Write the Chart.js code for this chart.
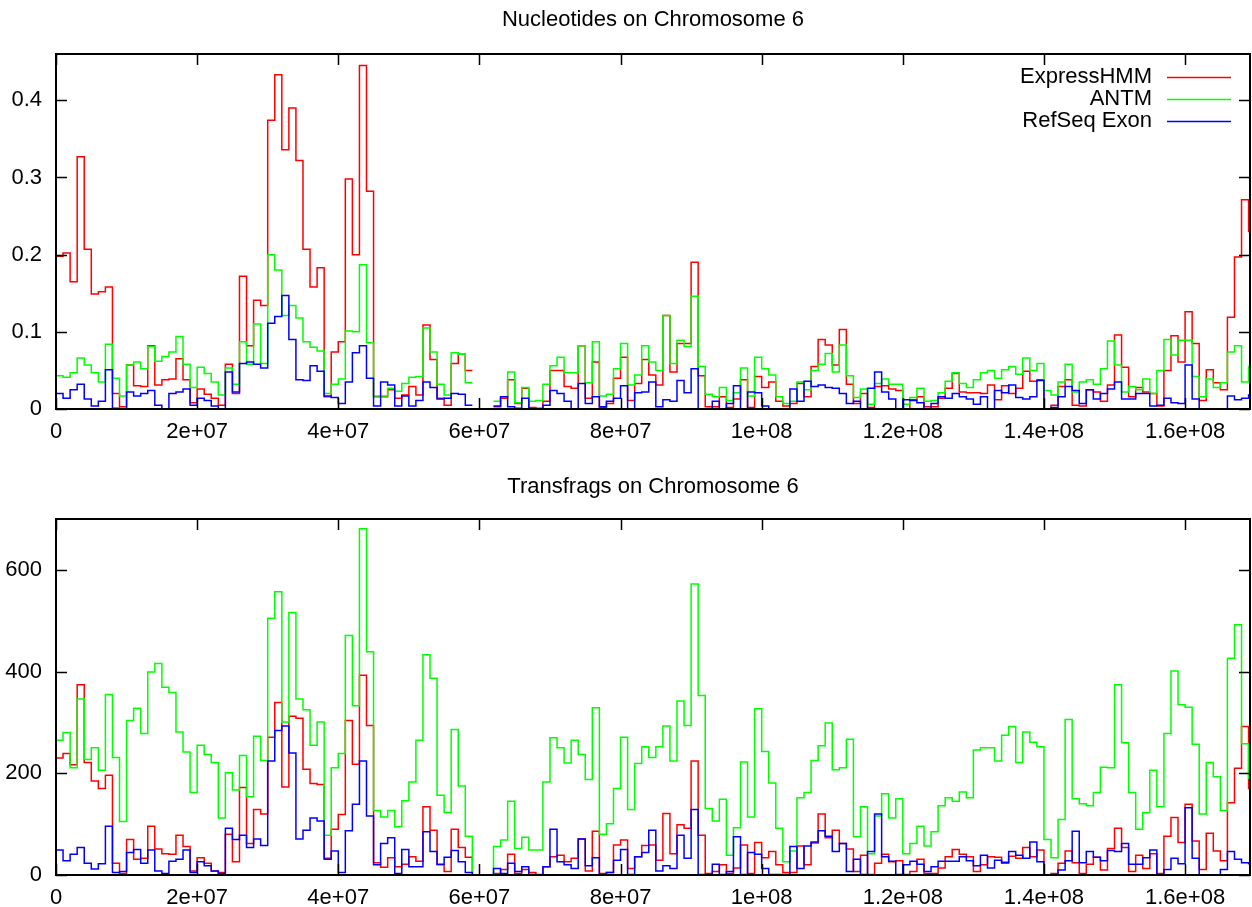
<!DOCTYPE html>
<html>
<head>
<meta charset="utf-8">
<title>Chromosome 6</title>
<script src="https://cdn.jsdelivr.net/npm/chart.js@4/dist/chart.umd.min.js"></script>
<style>
  html, body { margin: 0; padding: 0; background: #fff; }
  #wrap { position: relative; width: 1252px; height: 907px; }
  canvas { position: absolute; left: 0; }
  #nuc_chart { top: 0; }
  #frag_chart { top: 453px; }
</style>
</head>
<body>
<div id="wrap">
  <canvas id="nuc_chart" width="1252" height="453"></canvas>
  <canvas id="frag_chart" width="1252" height="454"></canvas>
</div>
<script>
// bins are 1 Mb wide along chromosome 6
const binSize = 1e6;
const xMax = 1.692e8;
const xTicks = [0, 2e7, 4e7, 6e7, 8e7, 1e8, 1.2e8, 1.4e8, 1.6e8];

const seriesNames = ['ExpressHMM', 'ANTM', 'RefSeq Exon'];
const seriesColors = ['#ff0000', '#00ff00', '#0000ff'];

// Nucleotides (fraction of bin), null = centromere gap
const nucExpressHMM = [
  0.198, 0.202, 0.165, 0.327, 0.207, 0.149, 0.152, 0.158, 0.020, 0.003,
  0.057, 0.030, 0.029, 0.082, 0.031, 0.038, 0.039, 0.065, 0.038, 0.008,
  0.026, 0.019, 0.014, 0.005, 0.058, 0.020, 0.172, 0.082, 0.141, 0.134,
  0.374, 0.433, 0.336, 0.390, 0.322, 0.207, 0.158, 0.183, 0.016, 0.074,
  0.087, 0.298, 0.200, 0.445, 0.282, 0.016, 0.016, 0.025, 0.014, 0.018,
  0.029, 0.018, 0.109, 0.064, 0.014, 0.005, 0.059, 0.071, 0.050, null,
  null, null, 0.003, 0.014, 0.038, 0.007, 0.027, 0.002, 0.001, 0.010,
  0.050, 0.050, 0.029, 0.027, 0.082, 0.014, 0.061, 0.002, 0.007, 0.040,
  0.067, 0.011, 0.033, 0.064, 0.044, 0.031, 0.121, 0.048, 0.085, 0.085,
  0.190, 0.043, 0.003, 0.003, 0.016, 0.002, 0.013, 0.038, 0.002, 0.042,
  0.028, 0.035, 0.010, 0.004, 0.007, 0.033, 0.016, 0.055, 0.090, 0.083,
  0.057, 0.103, 0.032, 0.007, 0.020, 0.002, 0.029, 0.030, 0.026, 0.024,
  0.000, 0.012, 0.016, 0.003, 0.003, 0.014, 0.027, 0.046, 0.022, 0.021,
  0.021, 0.020, 0.031, 0.012, 0.030, 0.020, 0.027, 0.049, 0.036, 0.038,
  0.000, 0.005, 0.029, 0.038, 0.005, 0.004, 0.025, 0.022, 0.010, 0.031,
  0.096, 0.054, 0.016, 0.028, 0.022, 0.020, 0.004, 0.050, 0.095, 0.061,
  0.126, 0.085, 0.011, 0.051, 0.034, 0.025, 0.119, 0.197, 0.271, 0.230
];
const nucANTM = [
  0.043, 0.041, 0.047, 0.066, 0.057, 0.047, 0.035, 0.084, 0.040, 0.017,
  0.057, 0.061, 0.052, 0.081, 0.062, 0.068, 0.074, 0.094, 0.058, 0.028,
  0.054, 0.046, 0.035, 0.018, 0.053, 0.032, 0.087, 0.058, 0.110, 0.059,
  0.200, 0.180, 0.121, 0.134, 0.118, 0.087, 0.080, 0.075, 0.020, 0.032,
  0.039, 0.101, 0.100, 0.187, 0.086, 0.017, 0.017, 0.027, 0.023, 0.033,
  0.041, 0.042, 0.105, 0.074, 0.032, 0.018, 0.073, 0.071, 0.034, null,
  null, null, 0.010, 0.016, 0.048, 0.008, 0.028, 0.010, 0.011, 0.032,
  0.056, 0.067, 0.047, 0.047, 0.082, 0.034, 0.087, 0.017, 0.019, 0.052,
  0.085, 0.031, 0.044, 0.082, 0.061, 0.050, 0.121, 0.059, 0.089, 0.081,
  0.146, 0.055, 0.019, 0.016, 0.028, 0.011, 0.021, 0.053, 0.017, 0.067,
  0.052, 0.044, 0.016, 0.007, 0.010, 0.035, 0.025, 0.050, 0.058, 0.072,
  0.048, 0.083, 0.043, 0.015, 0.026, 0.006, 0.033, 0.039, 0.032, 0.032,
  0.006, 0.015, 0.027, 0.010, 0.011, 0.021, 0.036, 0.047, 0.033, 0.028,
  0.038, 0.047, 0.050, 0.040, 0.051, 0.055, 0.045, 0.066, 0.050, 0.059,
  0.024, 0.018, 0.035, 0.058, 0.022, 0.035, 0.038, 0.032, 0.052, 0.088,
  0.057, 0.022, 0.029, 0.025, 0.039, 0.020, 0.050, 0.090, 0.070, 0.089,
  0.089, 0.042, 0.016, 0.039, 0.028, 0.034, 0.074, 0.082, 0.035, 0.055
];
const nucRefSeq = [
  0.020, 0.014, 0.025, 0.032, 0.013, 0.004, 0.010, 0.051, 0.001, 0.000,
  0.022, 0.017, 0.020, 0.024, 0.005, 0.000, 0.020, 0.022, 0.026, 0.005,
  0.014, 0.011, 0.004, 0.000, 0.048, 0.022, 0.059, 0.061, 0.058, 0.053,
  0.111, 0.120, 0.147, 0.090, 0.038, 0.037, 0.056, 0.049, 0.017, 0.015,
  0.007, 0.035, 0.073, 0.082, 0.040, 0.004, 0.035, 0.031, 0.004, 0.017,
  0.004, 0.011, 0.035, 0.028, 0.013, 0.014, 0.020, 0.019, 0.005, null,
  null, null, 0.004, 0.016, 0.003, 0.001, 0.014, 0.000, 0.000, 0.005,
  0.024, 0.020, 0.010, 0.000, 0.033, 0.007, 0.016, 0.003, 0.010, 0.014,
  0.030, 0.000, 0.021, 0.022, 0.035, 0.003, 0.012, 0.010, 0.037, 0.021,
  0.052, 0.000, 0.000, 0.010, 0.000, 0.007, 0.030, 0.000, 0.022, 0.021,
  0.004, 0.000, 0.000, 0.000, 0.026, 0.010, 0.036, 0.029, 0.031, 0.028,
  0.027, 0.020, 0.007, 0.010, 0.000, 0.027, 0.048, 0.022, 0.013, 0.000,
  0.012, 0.011, 0.008, 0.000, 0.007, 0.016, 0.014, 0.020, 0.016, 0.013,
  0.006, 0.016, 0.000, 0.024, 0.021, 0.031, 0.015, 0.013, 0.016, 0.037,
  0.000, 0.002, 0.016, 0.029, 0.024, 0.007, 0.025, 0.013, 0.020, 0.026,
  0.035, 0.013, 0.013, 0.020, 0.020, 0.004, 0.005, 0.014, 0.008, 0.007,
  0.057, 0.013, 0.000, 0.000, 0.000, 0.000, 0.017, 0.012, 0.014, 0.018
];

// Transfrags (count per bin)
const fragExpressHMM = [
  230, 239, 217, 374, 221, 185, 170, 196, 23, 3,
  70, 31, 33, 96, 51, 42, 41, 78, 56, 8,
  34, 23, 8, 5, 80, 26, 172, 62, 129, 120,
  271, 339, 173, 312, 308, 208, 180, 178, 33, 90,
  119, 304, 218, 393, 294, 24, 15, 34, 16, 21,
  36, 27, 134, 88, 20, 7, 90, 54, 35, 0,
  0, 0, 3, 11, 41, 3, 11, 5, 1, 16,
  36, 39, 26, 33, 71, 8, 86, 3, 5, 59,
  69, 13, 36, 58, 59, 29, 121, 42, 99, 92,
  224, 78, 3, 7, 20, 3, 14, 59, 3, 64,
  34, 46, 20, 5, 5, 57, 20, 63, 120, 73,
  88, 62, 51, 7, 39, 1, 23, 41, 26, 28,
  1, 7, 31, 3, 3, 14, 36, 50, 41, 36,
  7, 20, 36, 35, 23, 37, 33, 54, 36, 49,
  0, 3, 23, 47, 24, 3, 21, 35, 10, 52,
  92, 54, 7, 39, 13, 42, 3, 76, 113, 64,
  139, 67, 11, 82, 47, 28, 142, 210, 292, 170
];
const fragANTM = [
  265, 280, 211, 346, 227, 250, 206, 355, 231, 105,
  304, 328, 278, 399, 416, 369, 359, 281, 242, 162,
  255, 237, 221, 112, 201, 167, 235, 154, 273, 225,
  505, 557, 301, 516, 346, 325, 255, 301, 78, 211,
  239, 471, 333, 681, 439, 127, 114, 127, 95, 146,
  183, 265, 433, 387, 157, 123, 286, 175, 76, 0,
  0, 0, 56, 69, 145, 52, 74, 49, 49, 183,
  270, 250, 220, 265, 237, 188, 329, 80, 101, 170,
  271, 129, 219, 252, 231, 252, 293, 224, 342, 294,
  572, 353, 131, 106, 149, 39, 93, 222, 114, 327,
  243, 181, 92, 26, 47, 152, 162, 225, 254, 299,
  207, 211, 267, 75, 134, 42, 116, 160, 112, 150,
  42, 62, 96, 57, 85, 136, 152, 145, 163, 152,
  246, 250, 250, 224, 275, 292, 221, 281, 261, 252,
  70, 34, 109, 306, 150, 140, 136, 162, 212, 211,
  374, 260, 162, 90, 123, 206, 134, 278, 401, 335,
  330, 257, 120, 221, 193, 127, 426, 492, 258, 190
];
const fragRefSeq = [
  49, 28, 41, 54, 23, 12, 22, 96, 5, 7,
  44, 50, 23, 49, 8, 3, 27, 31, 49, 5,
  26, 18, 8, 3, 92, 70, 78, 54, 71, 58,
  224, 284, 293, 240, 71, 88, 112, 106, 31, 47,
  5, 87, 139, 224, 116, 20, 62, 73, 3, 50,
  16, 16, 85, 46, 21, 35, 48, 26, 5, 0,
  0, 0, 13, 3, 23, 7, 16, 1, 0, 16,
  90, 26, 20, 13, 71, 18, 34, 1, 5, 29,
  50, 1, 36, 44, 88, 8, 18, 13, 78, 33,
  129, 1, 1, 21, 1, 7, 75, 1, 44, 41,
  13, 1, 1, 1, 56, 13, 57, 65, 87, 76,
  46, 62, 7, 31, 1, 46, 120, 36, 27, 1,
  20, 27, 21, 7, 16, 27, 27, 27, 36, 28,
  18, 39, 14, 29, 25, 46, 39, 33, 65, 26,
  0, 0, 10, 28, 86, 24, 46, 35, 28, 48,
  46, 62, 21, 21, 34, 49, 0, 11, 33, 22,
  132, 33, 0, 0, 0, 11, 46, 31, 24, 22
];

const fontFamily = '"Liberation Sans", Arial, Helvetica, sans-serif';
Chart.defaults.font.family = fontFamily;
Chart.defaults.font.size = 22;
Chart.defaults.color = '#000';

// turn bin values into step points, closing the last bin before a gap
function stepPoints(values) {
  const pts = [];
  values.forEach(function(v, i) {
    pts.push({x: i * binSize, y: v});
    if (v !== null && (i === values.length - 1 || values[i + 1] === null)) {
      pts.push({x: (i + 1) * binSize, y: v});
    }
  });
  return pts;
}

function makeDatasets(lists) {
  return lists.map(function(vals, k) {
    return {
      label: seriesNames[k],
      data: stepPoints(vals),
      borderColor: seriesColors[k],
      backgroundColor: seriesColors[k],
      borderWidth: 1.5,
      stepped: 'before',
      pointRadius: 0,
      fill: false,
      spanGaps: false,
      order: 3 - k
    };
  });
}

function expLabel(v) {
  if (v === 0) return '0';
  return v.toExponential().replace(/e([+-])(\d)$/, 'e$10$2');
}

// gnuplot style frame with inward ticks on all four sides, title over the plot
const framePlugin = {
  id: 'gpFrame',
  afterDatasetsDraw(chart, args, opts) {
    const ctx = chart.ctx;
    const a = chart.chartArea;
    const xs = chart.scales.x;
    const ys = chart.scales.y;
    const len = 11;
    ctx.save();
    ctx.strokeStyle = '#000';
    ctx.lineWidth = 1.5;
    ctx.beginPath();
    xs.ticks.forEach(function(t) {
      const px = Math.round(xs.getPixelForValue(t.value)) + 0.5;
      ctx.moveTo(px, a.bottom); ctx.lineTo(px, a.bottom - len);
      ctx.moveTo(px, a.top); ctx.lineTo(px, a.top + len);
    });
    ys.ticks.forEach(function(t) {
      const py = Math.round(ys.getPixelForValue(t.value)) + 0.5;
      ctx.moveTo(a.left, py); ctx.lineTo(a.left + len, py);
      ctx.moveTo(a.right, py); ctx.lineTo(a.right - len, py);
    });
    ctx.stroke();
    ctx.lineWidth = 2;
    ctx.strokeRect(a.left, a.top, a.right - a.left, a.bottom - a.top);

    ctx.fillStyle = '#000';
    ctx.font = '22px ' + fontFamily;
    ctx.textAlign = 'center';
    ctx.textBaseline = 'middle';
    ctx.fillText(opts.title, (a.left + a.right) / 2, opts.titleY);
    ctx.restore();
  }
};

// key in the top right corner, text right aligned before the line sample
const keyPlugin = {
  id: 'gpKey',
  afterDatasetsDraw(chart, args, opts) {
    if (!opts.show) return;
    const ctx = chart.ctx;
    ctx.save();
    ctx.font = '22px ' + fontFamily;
    ctx.textAlign = 'right';
    ctx.textBaseline = 'middle';
    seriesNames.forEach(function(name, k) {
      const yy = opts.top + k * 22;
      ctx.fillStyle = '#000';
      ctx.fillText(name, opts.textRight, yy);
      ctx.strokeStyle = seriesColors[k];
      ctx.lineWidth = 1.5;
      ctx.beginPath();
      ctx.moveTo(opts.lineStart, yy + 0.5);
      ctx.lineTo(opts.lineEnd, yy + 0.5);
      ctx.stroke();
    });
    ctx.restore();
  }
};

function makeChart(canvasId, title, lists, yMax, yStep, yLabel, xHeight, plotTop, titleY, key) {
  return new Chart(document.getElementById(canvasId).getContext('2d'), {
    type: 'line',
    data: { datasets: makeDatasets(lists) },
    options: {
      responsive: false,
      animation: false,
      events: [],
      layout: { padding: { left: 0, right: 2, top: plotTop, bottom: 0 } },
      plugins: {
        legend: { display: false },
        tooltip: { enabled: false },
        title: { display: false },
        gpFrame: { title: title, titleY: titleY },
        gpKey: key
      },
      scales: {
        x: {
          type: 'linear',
          min: 0,
          max: xMax,
          grid: { display: false, drawTicks: false },
          border: { display: false },
          afterBuildTicks: function(s) {
            s.ticks = xTicks.map(function(v) { return {value: v}; });
          },
          afterFit: function(s) { s.height = xHeight; },
          ticks: {
            autoSkip: false,
            maxRotation: 0,
            padding: 10,
            color: '#000',
            callback: function(v) { return expLabel(v); }
          }
        },
        y: {
          min: 0,
          max: yMax,
          grid: { display: false, drawTicks: false },
          border: { display: false },
          afterFit: function(s) { s.width = 56; },
          ticks: {
            stepSize: yStep,
            includeBounds: false,
            padding: 14,
            color: '#000',
            callback: yLabel
          }
        }
      }
    },
    plugins: [framePlugin, keyPlugin]
  });
}

const nuc_chart = makeChart(
  'nuc_chart', 'Nucleotides on Chromosome 6',
  [nucExpressHMM, nucANTM, nucRefSeq],
  0.46, 0.1,
  function(v) { return v === 0 ? '0' : v.toFixed(1); },
  44, 54, 20,
  { show: true, top: 77, textRight: 1152, lineStart: 1167, lineEnd: 1231 }
);

const frag_chart = makeChart(
  'frag_chart', 'Transfrags on Chromosome 6',
  [fragExpressHMM, fragANTM, fragRefSeq],
  700, 200,
  function(v) { return String(v); },
  32, 66, 34,
  { show: false }
);
</script>
</body>
</html>
